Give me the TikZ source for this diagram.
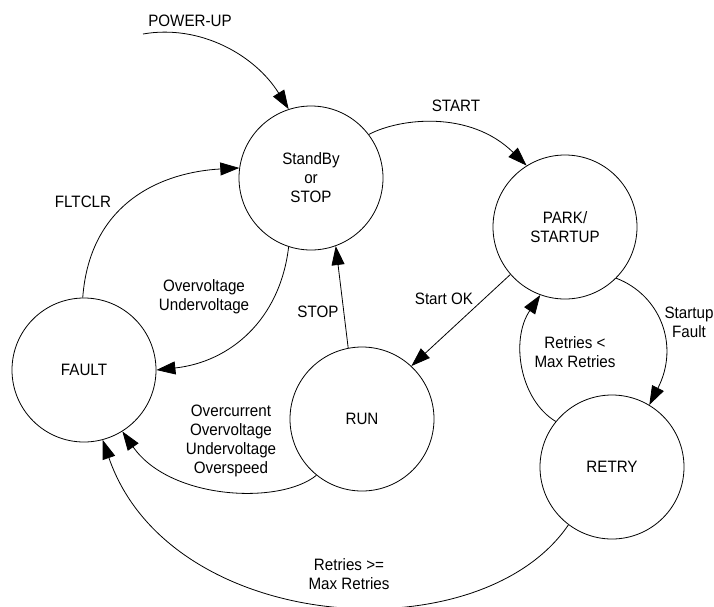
\documentclass[tikz,border=0pt]{standalone}
\usepackage{fontspec}
\setmainfont[FakeStretch=0.92]{Liberation Sans}
\usetikzlibrary{arrows.meta}
\newcommand{\lblfont}{\fontsize{16.5}{19}\selectfont}
\begin{document}
\begin{tikzpicture}[x=1pt,y=-1pt,
  state/.style={circle,draw,line width=0.8pt,minimum size=144pt,inner sep=0pt,align=center,font=\lblfont},
  lbl/.style={align=center,font=\lblfont,inner sep=0pt},
  tr/.style={draw,line width=0.8pt,-{Triangle[length=19pt,width=13pt]}}]
\path[use as bounding box] (0,0) rectangle (714,606);
% states
\node[state] (sb) at (311,178) {StandBy\\or\\STOP};
\node[state] (park) at (565,227) {PARK/\\STARTUP};
\node[state] (fault) at (84,370) {FAULT};
\node[state] (run) at (362,419) {RUN};
\node[state] (retry) at (612,467) {RETRY};
% labels
\node[lbl] (lpu) at (190,21) {POWER-UP};
\node[lbl] (lflt) at (83,202) {FLTCLR};
\node[lbl] (lov) at (204,297) {Overvoltage\\Undervoltage};
\node[lbl] (lstart) at (456,106) {START};
\node[lbl] (lok) at (444,299) {Start OK};
\node[lbl] (lstop) at (318,312) {STOP};
\node[lbl] (loc) at (231,441) {Overcurrent\\Overvoltage\\Undervoltage\\Overspeed};
\node[lbl] (lmax) at (349,574) {Retries >=\\Max Retries};
\node[lbl] (lsf) at (689,322) {Startup\\Fault};
\node[lbl] (lless) at (575,352) {Retries <\\Max Retries};
% connectors
\coordinate (pu) at (143,34);
\draw[tr] (pu) .. controls (200,24) and (255,55) .. (sb.108);
\draw[tr] (fault.91) .. controls (90,200) and (165,172) .. (sb.172);
\draw[tr] (sb.252) .. controls (280,320) and (230,362) .. (fault.0);
\draw[tr] (sb.37) .. controls (400,118) and (470,110) .. (park.122);
\draw[tr] (park.221) -- (run.47);
\draw[tr] (run.101) -- (sb.290);
\draw[tr] (run.231) .. controls (280,505) and (170,500) .. (fault.302);
\draw[tr] (retry.233) .. controls (480,655) and (170,635) .. (fault.285);
\draw[tr] (park.315) .. controls (660,295) and (680,345) .. (retry.59);
\draw[tr] (retry.141) .. controls (520,400) and (510,340) .. (park.250);
\end{tikzpicture}
\end{document}
